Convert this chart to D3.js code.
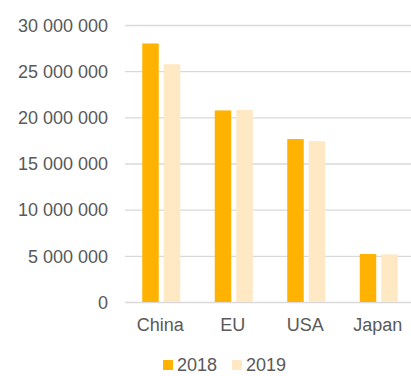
<!DOCTYPE html>
<html>
<head>
<meta charset="utf-8">
<script src="https://cdn.jsdelivr.net/npm/d3@7"></script>
<style>
  html, body { margin: 0; padding: 0; background: #fff; }
  svg { display: block; font-family: "Liberation Sans", Arial, sans-serif; }
</style>
</head>
<body>
<div id="chart"></div>
<script>
const categories = ['China', 'EU', 'USA', 'Japan'];
const series = ['2018', '2019'];
const values2018 = [28000000, 20750000, 17650000, 5200000];
const values2019 = [25750000, 20800000, 17420000, 5150000];
const yTicks = [0, 5000000, 10000000, 15000000, 20000000, 25000000, 30000000];
const colors = ['#ffb300', '#ffe8c4'];

const width = 411, height = 376;

const svg = d3.select('#chart')
  .append('svg')
  .attr('width', width)
  .attr('height', height);

const y = d3.scaleLinear().domain([0, 30000000]).range([302, 25]);

const x0 = d3.scaleBand().domain(categories).range([125, 415]);
const x1 = d3.scaleBand().domain(series)
  .range([0, x0.bandwidth()])
  .paddingInner(0.2326)
  .paddingOuter(0.802);

const fmt = v => d3.format(',')(v).replace(/,/g, ' ');

// gridlines + y labels
const yAxis = d3.axisLeft(y)
  .tickValues(yTicks)
  .tickSize(-(411 - 125))
  .tickPadding(17)
  .tickFormat(fmt);

const gy = svg.append('g')
  .attr('transform', 'translate(125,0)')
  .call(yAxis);
gy.select('.domain').remove();
gy.selectAll('.tick line').attr('stroke', '#d9d9d9').attr('stroke-width', 1.3);
gy.selectAll('.tick text')
  .attr('fill', '#595959')
  .style('font-size', '18px')
  .attr('dy', '0.35em');

// bars
const rows = categories.map((c, i) => ({ cat: c, vals: [values2018[i], values2019[i]] }));

const groups = svg.selectAll('.group')
  .data(rows)
  .enter().append('g')
  .attr('class', 'group')
  .attr('transform', d => `translate(${x0(d.cat)},0)`);

groups.selectAll('rect')
  .data(d => d.vals.map((v, j) => ({ s: series[j], v: v, j: j })))
  .enter().append('rect')
  .attr('x', d => x1(d.s))
  .attr('width', x1.bandwidth())
  .attr('y', d => y(d.v))
  .attr('height', d => y(0) - y(d.v))
  .attr('fill', d => colors[d.j]);

// category labels
svg.selectAll('.cat')
  .data(categories)
  .enter().append('text')
  .attr('class', 'cat')
  .attr('x', d => x0(d) + x0.bandwidth() / 2 - 1)
  .attr('y', 331)
  .attr('text-anchor', 'middle')
  .attr('fill', '#595959')
  .style('font-size', '18px')
  .text(d => d);

// legend
const legendX = [163, 232];
const legend = svg.selectAll('.legend')
  .data(series)
  .enter().append('g')
  .attr('class', 'legend')
  .attr('transform', (d, i) => `translate(${legendX[i]},360)`);
legend.append('rect')
  .attr('width', 10)
  .attr('height', 10)
  .attr('fill', (d, i) => colors[i]);
legend.append('text')
  .attr('x', 14)
  .attr('y', 11)
  .attr('fill', '#595959')
  .style('font-size', '18px')
  .text(d => d);
</script>
</body>
</html>
